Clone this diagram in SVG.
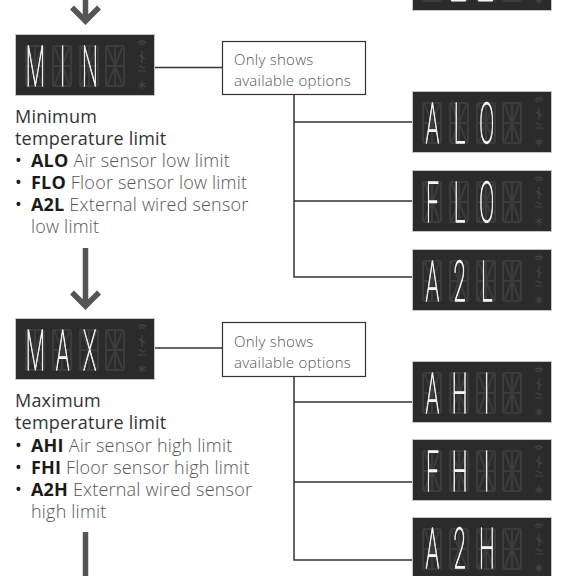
<svg xmlns="http://www.w3.org/2000/svg" xmlns:xlink="http://www.w3.org/1999/xlink" width="567" height="576" viewBox="0 0 567 576">
<style>
.conn{fill:none;stroke:#333;stroke-width:1.5}
.arrow{fill:none;stroke:#555;stroke-width:5.5;stroke-linejoin:miter}
.note{fill:#fff;stroke:#333;stroke-width:1.2}
.notet{font-family:"Open Sans",Lato,sans-serif;font-weight:300;font-size:15px;letter-spacing:0.25px;fill:#555}
.head{font-family:"Open Sans",Lato,sans-serif;font-weight:400;font-size:18px;letter-spacing:0.2px;fill:#333}
.item{font-family:"Open Sans",Lato,sans-serif;font-weight:300;font-size:18px;letter-spacing:0.2px;fill:#555}
.code{font-weight:700;fill:#1a1a1a}
.dot{font-weight:400;fill:#1a1a1a}
.lcd{font-family:Roboto,"DejaVu Sans",sans-serif;font-weight:100;font-size:56px;fill:#f4f4f4;stroke:#f4f4f4;stroke-width:1.3;stroke-linejoin:round;text-anchor:middle;filter:url(#gray)}
.ghost{stroke:#3c3c3c;stroke-width:2;stroke-linecap:round;fill:none}
.icon{stroke:#444;stroke-width:1.2;fill:none}
</style>
<defs>
<filter id="gray" x="-10%" y="-10%" width="120%" height="120%"><feColorMatrix type="saturate" values="0"/></filter>
<g id="cell">
<path class="ghost" d="M1,0H17M1,40H17M0,1V19M0,21V39M18,1V19M18,21V39M1,20H8M10,20H17M9,1V19M9,21V39M2,2L8,18M16,2L10,18M2,38L8,22M16,38L10,22"/>
</g>
<g id="disp">
<rect x="0.5" y="0.5" width="139" height="61" fill="#2b2b2b" stroke="#c4c4c4" stroke-width="1"/>
<use xlink:href="#cell" x="11" y="12"/>
<use xlink:href="#cell" x="38" y="12"/>
<use xlink:href="#cell" x="65" y="12"/>
<use xlink:href="#cell" x="91" y="12"/>
<path class="icon" d="M123,9Q127,5 131,9M124.5,11Q127,8.5 129.5,11M127,17V29M124,21L130,25M124,33Q125.5,31 127,33T130,33M123,37H131M127,47V55M123.5,49L130.5,53M123.5,53L130.5,49"/>
</g>
</defs>

<g id="connectors">
<path class="arrow" d="M85.5,0V17M72,7.5L85.5,21L99,7.5"/>
<path class="arrow" d="M85.5,248V304M72,292.5L85.5,306L99,292.5"/>
<path class="arrow" d="M85.5,532V576"/>
<path class="conn" d="M155,67.5H222.5"/>
<path class="conn" d="M294,95V277H412M294,122H412M294,201H412"/>
<path class="conn" d="M155,348H222.5"/>
<path class="conn" d="M294,377V560H412M294,402H412M294,482H412"/>
</g>

<g id="node-top">
<use xlink:href="#disp" x="412" y="-51"/>
<path d="M452,0.5H465M479,0.5H492" stroke="#f4f4f4" stroke-width="2.2" stroke-linecap="round"/>
</g>

<g id="node-min">
<use xlink:href="#disp" x="15" y="34"/>
<text class="lcd" transform="translate(15,86) scale(0.4,1)" x="51 119 187" y="0">MIN</text>
</g>

<g id="note-min">
<rect class="note" x="222.5" y="41.5" width="143" height="53"/>
<text class="notet" x="234" y="65">Only shows</text>
<text class="notet" x="234" y="86">available options</text>
</g>

<g id="desc-min">
<text class="head" x="15" y="123">Minimum</text>
<text class="head" x="15" y="145">temperature limit</text>
<text class="item" y="167"><tspan x="15" class="dot">•</tspan><tspan x="31" class="code">ALO</tspan> Air sensor low limit</text>
<text class="item" y="189"><tspan x="15" class="dot">•</tspan><tspan x="31" class="code">FLO</tspan> Floor sensor low limit</text>
<text class="item" y="211"><tspan x="15" class="dot">•</tspan><tspan x="31" class="code">A2L</tspan> External wired sensor</text>
<text class="item" x="31" y="233">low limit</text>
</g>

<g id="node-alo">
<use xlink:href="#disp" x="412" y="91"/>
<text class="lcd" transform="translate(412,143) scale(0.4,1)" x="51 119 187" y="0">ALO</text>
</g>
<g id="node-flo">
<use xlink:href="#disp" x="412" y="170"/>
<text class="lcd" transform="translate(412,222) scale(0.4,1)" x="51 119 187" y="0">FLO</text>
</g>
<g id="node-a2l">
<use xlink:href="#disp" x="412" y="249"/>
<text class="lcd" transform="translate(412,301) scale(0.4,1)" x="51 119 187" y="0">A2L</text>
</g>

<g id="node-max">
<use xlink:href="#disp" x="15" y="318"/>
<text class="lcd" transform="translate(15,370) scale(0.4,1)" x="51 119 187" y="0">MAX</text>
</g>

<g id="note-max">
<rect class="note" x="222.5" y="322.5" width="143" height="54"/>
<text class="notet" x="234" y="347">Only shows</text>
<text class="notet" x="234" y="368">available options</text>
</g>

<g id="desc-max">
<text class="head" x="15" y="407">Maximum</text>
<text class="head" x="15" y="429">temperature limit</text>
<text class="item" y="452"><tspan x="15" class="dot">•</tspan><tspan x="31" class="code">AHI</tspan> Air sensor high limit</text>
<text class="item" y="474"><tspan x="15" class="dot">•</tspan><tspan x="31" class="code">FHI</tspan> Floor sensor high limit</text>
<text class="item" y="496"><tspan x="15" class="dot">•</tspan><tspan x="31" class="code">A2H</tspan> External wired sensor</text>
<text class="item" x="31" y="518">high limit</text>
</g>

<g id="node-ahi">
<use xlink:href="#disp" x="412" y="361"/>
<text class="lcd" transform="translate(412,413) scale(0.4,1)" x="51 119 187" y="0">AHI</text>
</g>
<g id="node-fhi">
<use xlink:href="#disp" x="412" y="439"/>
<text class="lcd" transform="translate(412,491) scale(0.4,1)" x="51 119 187" y="0">FHI</text>
</g>
<g id="node-a2h">
<use xlink:href="#disp" x="412" y="517"/>
<text class="lcd" transform="translate(412,568) scale(0.4,1)" x="51 119 187" y="0">A2H</text>
</g>
</svg>
